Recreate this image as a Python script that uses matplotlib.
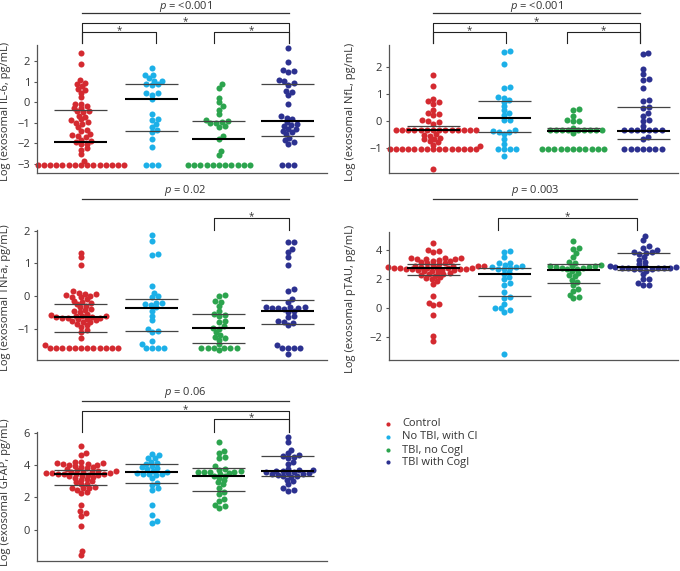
import numpy as np
import matplotlib
matplotlib.use("Agg")
import matplotlib.pyplot as plt

plt.rcParams['font.family'] = ['Open Sans', 'DejaVu Sans']
plt.rcParams['mathtext.fontset'] = 'custom'
plt.rcParams['mathtext.it'] = 'Open Sans:italic'
plt.rcParams['mathtext.rm'] = 'Open Sans'

groups = ['Control', 'No TBI, with CI', 'TBI, no CogI', 'TBI with CogI']
colors = ['#d42a30', '#1cb0e8', '#2ca44e', '#2c3190']

# ---- IL-6 ----
il6_control = [2.37, 1.85, 1.08, 0.95, 0.9, 0.78, 0.63, 0.6, 0.46, 0.26, -0.07, -0.1, -0.2, -0.28,
               -0.3, -0.41, -0.45, -0.5, -0.65, -0.7, -0.84, -0.88, -0.95, -1.0, -1.05, -1.2, -1.33,
               -1.38, -1.54, -1.58, -1.65, -1.7, -1.82, -1.87, -1.95, -2.01, -2.05, -2.22, -2.3, -2.54,
               -2.87, -3.05, -3.05, -3.05, -3.05, -3.05, -3.05, -3.05, -3.05, -3.05, -3.05, -3.05,
               -3.05, -3.05, -3.05, -3.05]
il6_no_tbi_ci = [1.68, 1.32, 1.3, 1.16, 1.05, 1.02, 0.88, 0.87, 0.86, 0.46, 0.44, 0.37, 0.16, -0.55,
                 -0.84, -0.88, -1.05, -1.2, -1.35, -1.46, -1.78, -2.17, -3.05, -3.05, -3.05]
il6_tbi_no_cogi = [0.87, 0.7, 0.2, 0.0, -0.2, -0.36, -0.58, -0.86, -0.9, -0.97, -1.0, -1.02, -1.16,
                   -1.2, -1.64, -1.8, -2.37, -2.56, -3.05, -3.05, -3.05, -3.05, -3.05, -3.05, -3.05,
                   -3.05, -3.05, -3.05, -3.05]
il6_tbi_cogi = [2.62, 1.97, 1.56, 1.5, 1.45, 1.1, 1.02, 0.95, 0.86, 0.55, 0.5, 0.35, -0.1, -0.68,
                -0.75, -0.84, -0.95, -1.05, -1.1, -1.15, -1.28, -1.32, -1.38, -1.45, -1.55, -1.72,
                -1.85, -1.95, -2.02, -3.05, -3.05, -3.05]
il6_median = [-1.92, 0.16, -1.8, -0.9]
il6_q1 = [np.nan, -1.38, np.nan, -1.64]
il6_q3 = [-0.39, 0.87, -0.91, 0.88]

# ---- NfL ----
nfl_control = [1.7, 1.27, 0.82, 0.72, 0.68, 0.62, 0.4, 0.3, 0.25, 0.22, 0.02, 0.0, -0.05, -0.1,
               -0.35, -0.35, -0.35, -0.35, -0.35, -0.35, -0.35, -0.35, -0.35, -0.35, -0.35, -0.35,
               -0.35, -0.35, -0.5, -0.52, -0.55, -0.62, -0.65, -0.68, -0.75, -0.78, -0.88, -0.92,
               -1.05, -1.05, -1.05, -1.05, -1.05, -1.05, -1.05, -1.05, -1.05, -1.05, -1.05, -1.05,
               -1.05, -1.05, -1.05, -1.77]
nfl_no_tbi_ci = [2.58, 2.55, 2.1, 1.24, 1.2, 0.9, 0.85, 0.78, 0.7, 0.55, 0.4, 0.3, 0.22, 0.05, 0.02,
                 -0.35, -0.38, -0.4, -0.42, -0.5, -0.65, -0.85, -1.05, -1.05, -1.05, -1.05, -1.3]
nfl_tbi_no_cogi = [0.45, 0.42, 0.18, 0.02, 0.0, -0.02, -0.25, -0.35, -0.35, -0.35, -0.35, -0.35,
                   -0.35, -0.35, -0.35, -0.35, -0.45, -1.05, -1.05, -1.05, -1.05, -1.05, -1.05,
                   -1.05, -1.05, -1.05, -1.05, -1.05]
nfl_tbi_cogi = [2.52, 2.45, 1.92, 1.72, 1.55, 1.52, 1.2, 0.78, 0.72, 0.52, 0.48, 0.28, 0.2, 0.02,
                0.0, -0.18, -0.35, -0.35, -0.35, -0.35, -0.35, -0.35, -0.35, -0.58, -0.65, -1.05,
                -1.05, -1.05, -1.05, -1.05, -1.05, -1.05]
nfl_median = [-0.35, 0.1, -0.38, -0.38]
nfl_q1 = [np.nan, -0.42, np.nan, -0.66]
nfl_q3 = [-0.2, 0.73, -0.25, 0.5]

# ---- TNFa ----
tnf_control = [1.32, 1.18, 0.94, 0.14, 0.08, 0.06, 0.05, 0.03, 0.0, -0.02, -0.04, -0.1, -0.14, -0.18,
               -0.22, -0.25, -0.3, -0.35, -0.4, -0.43, -0.45, -0.5, -0.55, -0.58, -0.6, -0.6, -0.62,
               -0.65, -0.65, -0.66, -0.67, -0.68, -0.7, -0.72, -0.75, -0.78, -0.8, -0.8, -0.85, -0.9,
               -0.95, -1.05, -1.1, -1.3, -1.5, -1.58, -1.58, -1.58, -1.58, -1.58, -1.58, -1.58,
               -1.58, -1.58, -1.58, -1.58, -1.58]
tnf_no_tbi_ci = [1.87, 1.67, 1.28, 1.24, 0.32, 0.1, 0.0, -0.02, -0.2, -0.22, -0.25, -0.28, -0.35,
                 -0.45, -0.6, -0.75, -1.0, -1.08, -1.1, -1.37, -1.48, -1.58, -1.58, -1.58, -1.58]
tnf_tbi_no_cogi = [0.04, 0.0, -0.15, -0.18, -0.3, -0.45, -0.55, -0.58, -0.62, -0.76, -0.8, -0.92,
                   -0.98, -1.0, -1.1, -1.18, -1.25, -1.3, -1.35, -1.48, -1.58, -1.58, -1.58, -1.58,
                   -1.58, -1.58, -1.65]
tnf_tbi_cogi = [1.66, 1.64, 1.45, 1.35, 1.18, 0.95, 0.2, 0.15, -0.08, -0.18, -0.33, -0.35, -0.35,
                -0.36, -0.37, -0.38, -0.4, -0.45, -0.5, -0.6, -0.65, -0.78, -0.8, -0.82, -0.9, -1.5,
                -1.58, -1.58, -1.58, -1.58, -1.78]
tnf_median = [-0.64, -0.38, -0.97, -0.45]
tnf_q1 = [-1.11, -1.07, -1.44, -0.87]
tnf_q3 = [-0.25, -0.09, -0.56, -0.12]

# ---- pTAU ----
ptau_control = [4.5, 4.05, 3.95, 3.9, 3.5, 3.48, 3.45, 3.42, 3.4, 3.38, 3.35, 3.3, 3.25, 3.2, 3.15,
                3.1, 3.05, 3.0, 2.95, 2.95, 2.92, 2.9, 2.88, 2.85, 2.82, 2.8, 2.8, 2.78, 2.78, 2.76,
                2.75, 2.74, 2.72, 2.7, 2.68, 2.66, 2.62, 2.6, 2.55, 2.5, 2.45, 2.4, 2.35, 2.3, 2.25,
                2.15, 2.1, 2.0, 1.9, 1.7, 0.82, 0.4, 0.3, 0.2, -0.45, -1.95, -2.25]
ptau_no_tbi_ci = [3.98, 3.9, 3.55, 3.15, 3.12, 3.0, 2.9, 2.88, 2.85, 2.8, 2.75, 2.72, 2.5, 2.35,
                  2.15, 2.0, 1.75, 1.62, 1.12, 0.78, 0.72, 0.28, 0.02, 0.0, -0.15, -0.25, -3.15]
ptau_tbi_no_cogi = [4.65, 4.2, 4.1, 3.8, 3.55, 3.22, 3.15, 3.0, 2.95, 2.92, 2.9, 2.88, 2.85, 2.82,
                    2.8, 2.75, 2.7, 2.55, 2.45, 2.3, 2.2, 1.95, 1.8, 1.6, 1.35, 1.2, 0.92, 0.8, 0.68]
ptau_tbi_cogi = [4.98, 4.72, 4.3, 4.2, 4.0, 3.92, 3.88, 3.82, 3.75, 3.55, 3.35, 3.2, 3.05, 2.95,
                 2.9, 2.85, 2.85, 2.82, 2.8, 2.8, 2.78, 2.76, 2.75, 2.72, 2.7, 2.6, 2.35, 2.05, 2.0,
                 1.75, 1.62, 1.6]
ptau_median = [2.78, 2.38, 2.62, 2.85]
ptau_q1 = [2.27, 0.85, 1.78, 2.68]
ptau_q3 = [3.05, 2.82, 3.05, 3.8]

# ---- GFAP ----
gfap_control = [5.2, 4.75, 4.6, 4.22, 4.18, 4.12, 4.1, 4.08, 4.05, 4.02, 4.0, 3.95, 3.9, 3.85, 3.8,
                3.75, 3.7, 3.65, 3.62, 3.6, 3.58, 3.55, 3.52, 3.5, 3.48, 3.46, 3.45, 3.44, 3.42, 3.4,
                3.38, 3.35, 3.3, 3.25, 3.2, 3.15, 3.1, 3.0, 2.95, 2.85, 2.8, 2.65, 2.6, 2.58, 2.55,
                2.45, 2.35, 2.25, 1.5, 1.12, 1.02, 0.85, 0.2, -1.3, -1.55]
gfap_no_tbi_ci = [4.68, 4.6, 4.45, 4.42, 4.22, 4.12, 4.05, 3.95, 3.85, 3.8, 3.75, 3.62, 3.55, 3.48,
                  3.45, 3.45, 3.42, 3.4, 3.2, 2.88, 2.75, 2.55, 2.45, 1.5, 0.92, 0.55, 0.42]
gfap_tbi_no_cogi = [5.42, 4.88, 4.75, 4.5, 4.42, 3.92, 3.78, 3.72, 3.62, 3.6, 3.58, 3.55, 3.55, 3.5,
                    3.45, 3.35, 3.3, 3.2, 3.05, 2.95, 2.8, 2.6, 2.35, 2.2, 1.92, 1.8, 1.55, 1.45, 1.35]
gfap_tbi_cogi = [5.72, 5.45, 4.95, 4.72, 4.65, 4.58, 4.5, 4.45, 4.2, 4.05, 3.78, 3.72, 3.7, 3.65,
                 3.62, 3.58, 3.55, 3.52, 3.5, 3.45, 3.42, 3.4, 3.35, 3.3, 3.28, 3.1, 3.0, 2.85, 2.55,
                 2.45, 2.38]
gfap_median = [3.44, 3.54, 3.34, 3.65]
gfap_q1 = [2.76, 2.89, 2.42, 3.33]
gfap_q3 = [3.71, 4.05, 3.79, 4.57]

W, H = 680, 571
DOT = 6.1        # dot diameter in pixels
VSQ = 1.5        # vertical squeeze: dots may overlap a bit vertically, like the original
HALF = 26.5      # half width of median / quartile bars in pixels
TXT = '#333333'

fig = plt.figure(figsize=(W / 100, H / 100), dpi=100)
ov = fig.add_axes([0, 0, 1, 1])
ov.set_xlim(0, W)
ov.set_ylim(H, 0)
ov.axis('off')


def swarm(ypix, d):
    step = np.arange(0.2, 90, 0.2)
    cands = np.concatenate([[0.0], np.column_stack([step, -step]).ravel()])
    xs = np.zeros(len(ypix))
    px, py = np.empty(0), np.empty(0)
    for i in np.argsort(ypix, kind='stable'):
        y = ypix[i]
        for c in cands:
            if np.all((c - px) ** 2 + (VSQ * (y - py)) ** 2 >= d * d - 1e-6):
                break
        xs[i] = c
        px = np.append(px, c)
        py = np.append(py, y)
    return xs


def panel(box, data, med, q1, q3, ylim, yticks, ylabel, lab_xy, centers):
    l, t, r, b = box
    ax = fig.add_axes([l / W, 1 - b / H, (r - l) / W, (b - t) / H])
    ax.set_xlim(l, r)
    ax.set_ylim(*ylim)
    ppu = (b - t) / (ylim[1] - ylim[0])
    for k, vals in enumerate(data):
        v = np.array(vals)
        off = swarm(v * ppu, DOT)
        ax.scatter(centers[k] + off, v, s=19, color=colors[k], linewidths=0, zorder=2, clip_on=False)
        ax.hlines(med[k], centers[k] - HALF, centers[k] + HALF, color='black', lw=1.5, zorder=3)
        for q in (q1[k], q3[k]):
            if not np.isnan(q):
                ax.hlines(q, centers[k] - HALF, centers[k] + HALF, color='#444444', lw=0.9, zorder=3)
    for s in ('top', 'right'):
        ax.spines[s].set_visible(False)
    for s in ('left', 'bottom'):
        ax.spines[s].set_color('#555555')
        ax.spines[s].set_linewidth(0.9)
    ax.set_yticks(yticks)
    ax.set_xticks([])
    ax.tick_params(axis='y', length=2, width=0.8, color='#555555', labelsize=8, labelcolor=TXT, pad=3)
    ax.set_ylabel(ylabel, fontsize=8, color=TXT)
    ax.yaxis.set_label_coords(*lab_xy)
    ax.patch.set_alpha(0)
    return ax


def annotate(bx, p_text, p_text_y, p_line_y, brackets, leg_bottom):
    ov.text((bx[0] + bx[3]) / 2, p_text_y, p_text, ha='center', va='center', fontsize=8, color=TXT)
    ov.plot([bx[0], bx[3]], [p_line_y, p_line_y], color='#333333', lw=0.9)
    for i, j, lev in brackets:
        ov.plot([bx[i], bx[i], bx[j], bx[j]], [leg_bottom, lev, lev, leg_bottom], color='#222222', lw=0.8)
        ov.text((bx[i] + bx[j]) / 2, lev + 1.5, '*', ha='center', va='baseline', fontsize=7, color=TXT)


left_dots = [81, 152, 219, 288]
right_dots = [433, 504, 573, 643]
left_br = [82, 156, 214, 289]
right_br = [433, 506, 567, 640]

panel((37, 45, 327, 173), [il6_control, il6_no_tbi_ci, il6_tbi_no_cogi, il6_tbi_cogi],
      il6_median, il6_q1, il6_q3, (-3.44, 2.78), [-3, -2, -1, 0, 1, 2],
      'Log (exosomal IL-6, pg/mL)', (-0.09, 0.48), left_dots)
panel((389, 45, 678, 173), [nfl_control, nfl_no_tbi_ci, nfl_tbi_no_cogi, nfl_tbi_cogi],
      nfl_median, nfl_q1, nfl_q3, (-1.92, 2.8), [-1, 0, 1, 2],
      'Log (exosomal NfL, pg/mL)', (-0.115, 0.48), right_dots)
panel((37, 230, 327, 360), [tnf_control, tnf_no_tbi_ci, tnf_tbi_no_cogi, tnf_tbi_cogi],
      tnf_median, tnf_q1, tnf_q3, (-1.96, 2.02), [-1, 0, 1, 2],
      'Log (exosomal TNFa, pg/mL)', (-0.088, 0.48), left_dots)
panel((389, 232, 678, 360), [ptau_control, ptau_no_tbi_ci, ptau_tbi_no_cogi, ptau_tbi_cogi],
      ptau_median, ptau_q1, ptau_q3, (-3.58, 5.28), [-2, 0, 2, 4],
      'Log (exosomal pTAU, pg/mL)', (-0.115, 0.48), right_dots)
panel((37, 432, 327, 561), [gfap_control, gfap_no_tbi_ci, gfap_tbi_no_cogi, gfap_tbi_cogi],
      gfap_median, gfap_q1, gfap_q3, (-1.95, 6.05), [0, 2, 4, 6],
      'Log (exosomal GFAP, pg/mL)', (-0.088, 0.53), left_dots)

annotate(left_br, r'$p$ = <0.001', 6.5, 13, [(0, 3, 23), (0, 1, 32), (2, 3, 32)], 43)
annotate(right_br, r'$p$ = <0.001', 6.5, 13, [(0, 3, 23), (0, 1, 32), (2, 3, 32)], 43)
annotate(left_br, r'$p$ = 0.02', 191, 199, [(2, 3, 218)], 230)
annotate([433, 498, 567, 637], r'$p$ = 0.003', 191, 199, [(1, 3, 218)], 230)
annotate(left_br, r'$p$ = 0.06', 393, 401, [(0, 3, 411), (2, 3, 419)], 432)

# legend
leg_y = [424, 437, 450, 462]
for k, name in enumerate(groups):
    ov.scatter(388, leg_y[k], s=9, color=colors[k], linewidths=0)
    ov.text(402, leg_y[k], name, ha='left', va='center', fontsize=8, color=TXT)

fig.savefig('out.png', dpi=100)
